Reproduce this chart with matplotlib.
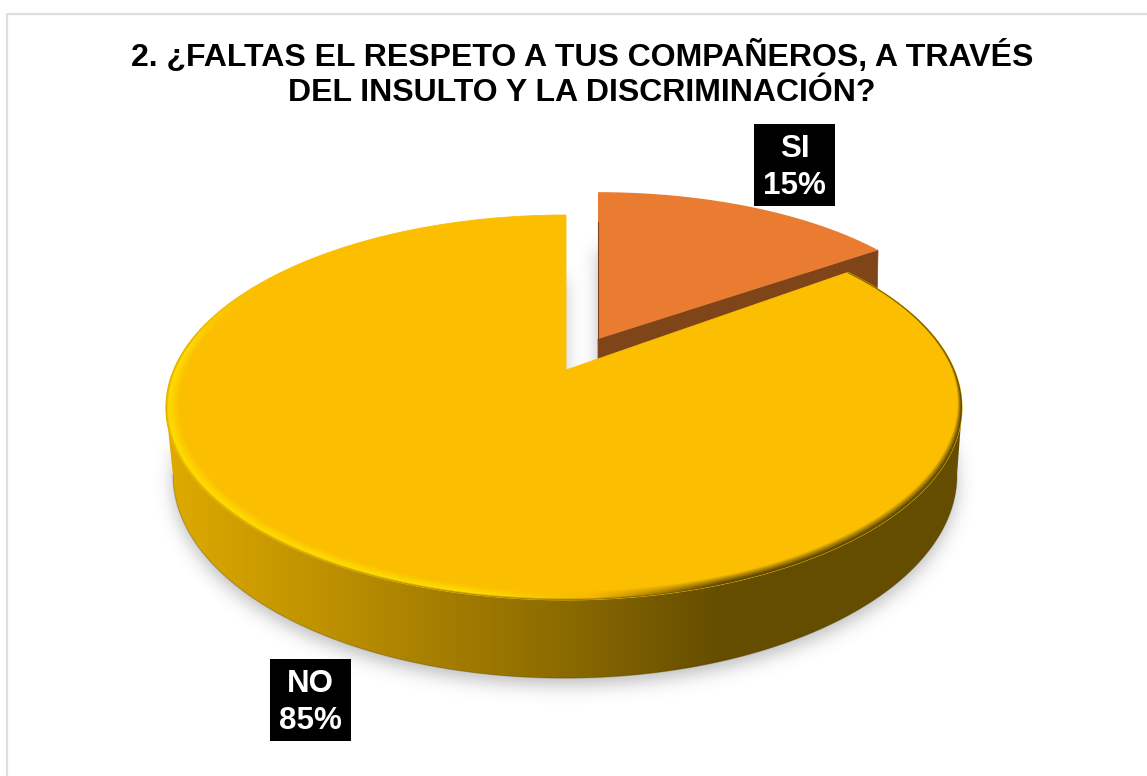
import numpy as np
import matplotlib
matplotlib.use('Agg')
import matplotlib.pyplot as plt
from matplotlib.path import Path
from matplotlib.patches import Polygon, Rectangle
from matplotlib.colors import to_rgb

plt.rcParams['font.family'] = ['Liberation Sans', 'DejaVu Sans']

# data
categories = ['SI', 'NO']
values = [15, 85]
title = '2. ¿FALTAS EL RESPETO A TUS COMPAÑEROS, A TRAVÉS\nDEL INSULTO Y LA DISCRIMINACIÓN?'

W, H = 1147, 776

# perspective of the disc, all in pixels (ar/al = half width right/left of the apex)
TOP = dict(x0=566, y0=370, ar=388.5, al=392.5, b=185.2, k=0.1948)
BOTTOM = dict(x0=565, y0=435.5, ar=384.5, al=384.5, b=195.4, k=0.1948)
SI_TOP = dict(x0=598, y0=339, ar=361.6, al=361.6, b=158, k=0.076)
SI_DEPTH = 48

# side colour from left to right
side_x = [170, 400, 560, 720]
side_col = ['#DEAA00', '#AE8500', '#8C6B00', '#654D00']
# rim highlight colour from left to right
rim_x = [160, 470, 590, 720]
rim_col = ['#FFDC00', '#FFDC00', '#F5B800', '#654D00']
base_col = '#FBBE00'


def project(theta, p, r=1.0):
    # theta in radians, clockwise from the back of the pie
    u, v = r * np.sin(theta), r * np.cos(theta)
    w = 1 + p['k'] * v
    a = np.where(u >= 0, p['ar'], p['al'])
    return p['x0'] + a * u / w, p['y0'] - p['b'] * v / w


def wedge(start, end, p):
    th = np.linspace(start, end, 300)
    x, y = project(th, p)
    return np.column_stack([np.r_[p['x0'], x], np.r_[p['y0'], y]])


def ramp(x, xs, cols):
    rgb = np.array([to_rgb(c) for c in cols])
    return np.stack([np.interp(x, xs, rgb[:, i]) for i in range(3)], axis=-1)


def blur(img, sigma):
    fy = np.fft.fftfreq(img.shape[0])[:, None]
    fx = np.fft.rfftfreq(img.shape[1])[None, :]
    g = np.exp(-2 * np.pi ** 2 * sigma ** 2 * (fx ** 2 + fy ** 2))
    return np.fft.irfft2(np.fft.rfft2(img) * g, s=img.shape)


# slice angles come from the values
shares = np.array(values) / sum(values)
edges = np.r_[0, np.cumsum(shares)] * 2 * np.pi
si_start, si_end = edges[0], edges[1]
no_start, no_end = edges[1], edges[2]

fig = plt.figure(figsize=(W / 100, H / 100), dpi=100, facecolor='white')
ax = fig.add_axes([0, 0, 1, 1])
ax.set_axis_off()

X, Y = np.meshgrid(np.arange(W) + 0.5, np.arange(H) + 0.5)
grid = np.column_stack([X.ravel(), Y.ravel()])
extent = (0, W, H, 0)

# soft shadow on the ground
no_floor = wedge(no_start, no_end, BOTTOM)
si_floor = wedge(si_start, si_end, SI_TOP) + [0, SI_DEPTH + 10]
mask = Path(no_floor + [0, 7]).contains_points(grid) | Path(si_floor).contains_points(grid)
shadow = blur(mask.reshape(H, W).astype(float), 8.5)
shadow_img = np.zeros((H, W, 4))
shadow_img[..., :3] = 0.5
shadow_img[..., 3] = np.clip(shadow * 0.5, 0, 1)
ax.imshow(shadow_img, extent=extent, aspect='auto', zorder=1, interpolation='bilinear')

# frame, only top and left fall inside the picture
ax.plot([6.5, 6.5, W + 5], [H + 5, 14, 14], color='#DEDEDE', lw=1.6, zorder=2)

# SI slice, side then top
si_top = wedge(si_start, si_end, SI_TOP)
apex, corner = si_top[0], si_top[-1]
si_side = np.array([apex, corner, corner + [-1, SI_DEPTH], apex + [0, SI_DEPTH]])
ax.add_patch(Polygon(si_side, closed=True, fc='#7F4519', ec='#7F4519', lw=0.5, zorder=3))
ax.add_patch(Polygon(si_top, closed=True, fc='#E97C30', ec='none', zorder=4))
ax.plot([si_top[1, 0], apex[0]], [si_top[1, 1] + 30, apex[1]], color='#7F4519', lw=0.8, zorder=4)

# NO slice, side with the horizontal gradient
th = np.linspace(0, 2 * np.pi, 1441)
tx, ty = project(th, TOP)
bx, by = project(th, BOTTOM)
il_t, ir_t = np.argmin(tx), np.argmax(tx)
il_b, ir_b = np.argmin(bx), np.argmax(bx)
side_poly = np.vstack([
    np.column_stack([tx[ir_t:il_t + 1], ty[ir_t:il_t + 1]]),
    np.column_stack([bx[ir_b:il_b + 1], by[ir_b:il_b + 1]])[::-1],
])
grad = ramp(np.arange(W) + 0.5, side_x, side_col)[None, :, :]
im = ax.imshow(grad, extent=extent, aspect='auto', zorder=5, interpolation='bilinear')
side_patch = Polygon(side_poly, closed=True, fc='none', ec='none', transform=ax.transData)
ax.add_patch(side_patch)
im.set_clip_path(side_patch)
ax.plot(bx[ir_b:il_b + 1], by[ir_b:il_b + 1], color='#4A3800', lw=0.8, alpha=0.3, zorder=5)

# NO top surface
no_top = wedge(no_start, no_end, TOP)
ax.add_patch(Polygon(no_top, closed=True, fc=base_col, ec=base_col, lw=0.6, zorder=6))

# bevel along the rim, wide on the left and front, thin on the right and at the back
p_ = (TOP['y0'] - Y) / TOP['b']
v_ = p_ / (1 - TOP['k'] * p_)
a_ = np.where(X >= TOP['x0'], TOP['ar'], TOP['al'])
u_ = (X - TOP['x0']) * (1 + TOP['k'] * v_) / a_
r_ = np.hypot(u_, v_)
s = np.clip((X - 560) / 200, 0, 1)
w_left = np.full_like(X, 0.034)
w_right = 0.007 + 0.024 * np.clip(-v_, 0, 1)
width = w_left * (1 - s) + w_right * s
t = np.clip((r_ - (1 - width)) / width, 0, 1)
peak = ramp(X, rim_x, rim_col)
edge = ramp(X, side_x, side_col)
base = np.array(to_rgb(base_col))
t1 = np.clip(t / 0.8, 0, 1)[..., None]
t2 = np.clip((t - 0.8) / 0.2, 0, 1)[..., None]
col = (base * (1 - t1) + peak * t1) * (1 - t2) + edge * t2
# left part fades out towards the back
fade = np.clip((0.45 - v_) / 0.35, 0, 1)
fade = fade * (1 - s) + s
bevel = np.dstack([col, np.where(r_ > 1 - width, fade, 0)])
im2 = ax.imshow(bevel, extent=extent, aspect='auto', zorder=7, interpolation='bilinear')
no_patch = Polygon(no_top, closed=True, fc='none', ec='none', transform=ax.transData)
ax.add_patch(no_patch)
im2.set_clip_path(no_patch)

# title
ax.text(582, 74, title, ha='center', va='center', fontsize=23, fontweight='bold',
        color='black', linespacing=1.2, zorder=10)

# labels in black boxes
label_boxes = {'SI': (754, 124), 'NO': (270, 659)}
for name, val in zip(categories, values):
    bx0, by0 = label_boxes[name]
    ax.add_patch(Rectangle((bx0, by0), 81, 82, fc='black', ec='none', zorder=10))
    ax.text(bx0 + 40.5, by0 + 43.5, f'{name}\n{val}%', ha='center', va='center', color='white',
            fontsize=22.6, fontweight='bold', linespacing=1.34, zorder=11)

ax.set_xlim(0, W)
ax.set_ylim(H, 0)
fig.savefig('out.png', dpi=100, facecolor='white')
